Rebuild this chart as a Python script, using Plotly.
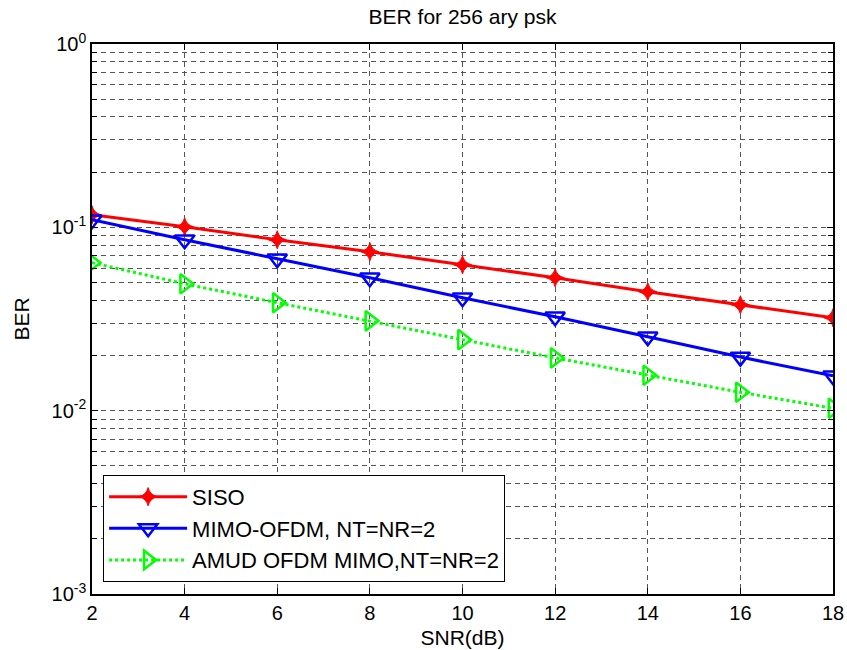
import plotly.graph_objects as go

snr = [2, 4, 6, 8, 10, 12, 14, 16, 18]
ber_siso = [0.117, 0.1006, 0.0855, 0.0736, 0.0625, 0.0531, 0.0445, 0.0378, 0.0321]
ber_mimo = [0.110, 0.0855, 0.0674, 0.0531, 0.0413, 0.0325, 0.0253, 0.0196, 0.0155]
ber_amud = [0.0641, 0.0492, 0.0388, 0.0309, 0.0244, 0.0194, 0.0156, 0.0126, 0.0103]

x_ticks = [2, 4, 6, 8, 10, 12, 14, 16, 18]
decades = [-3, -2, -1, 0]
y_tickvals = [10.0 ** e for e in decades]
y_ticktext = [f"10<sup>{e}</sup>" for e in decades]

font_family = "Liberation Sans, Arial, sans-serif"

fig = go.Figure()
fig.add_trace(go.Scatter(
    x=snr, y=ber_siso, mode="lines+markers", name="SISO",
    line=dict(color="#ff0000", width=3),
    marker=dict(symbol="star-diamond", size=13, color="#ff0000",
                line=dict(color="#ff0000", width=1)),
))
fig.add_trace(go.Scatter(
    x=snr, y=ber_mimo, mode="lines+markers", name="MIMO-OFDM, NT=NR=2",
    line=dict(color="#0000ff", width=3),
    marker=dict(symbol="triangle-down-open", size=17, color="#0000ff",
                line=dict(color="#0000ff", width=2.5)),
))
fig.add_trace(go.Scatter(
    x=snr, y=ber_amud, mode="lines+markers", name="AMUD OFDM MIMO,NT=NR=2",
    line=dict(color="#00ff00", width=3, dash="dot"),
    marker=dict(symbol="triangle-right-open", size=17, color="#00ff00",
                line=dict(color="#00ff00", width=2.5)),
))

grid_color = "#555555"
fig.update_layout(
    width=847, height=650,
    margin=dict(l=92, r=14, t=44, b=56),
    paper_bgcolor="white", plot_bgcolor="white",
    font=dict(family=font_family, size=20, color="black"),
    title=dict(text="BER for 256 ary psk", x=0.5, xref="paper", xanchor="center",
               y=1 - 17 / 650, yref="container", yanchor="middle",
               font=dict(size=21, color="black")),
    xaxis=dict(
        range=[2, 18], tickvals=x_ticks, ticktext=[str(v) for v in x_ticks],
        showline=True, linecolor="black", linewidth=1.5, mirror="allticks",
        ticks="inside", ticklen=6, tickcolor="black",
        showgrid=True, gridcolor=grid_color, gridwidth=1, griddash="5px,4px",
        zeroline=False, automargin=False,
        title=dict(text="SNR(dB)", standoff=8, font=dict(size=21)),
        tickfont=dict(size=20),
    ),
    yaxis=dict(
        type="log", range=[-3, 0], tickvals=y_tickvals, ticktext=y_ticktext,
        showline=True, linecolor="black", linewidth=1.5, mirror="allticks",
        ticks="inside", ticklen=6, tickcolor="black",
        showgrid=True, gridcolor=grid_color, gridwidth=1, griddash="5px,4px",
        minor=dict(ticks="inside", ticklen=5, tickcolor="black", dtick="D1",
                   showgrid=True, gridcolor=grid_color, gridwidth=1,
                   griddash="5px,4px"),
        zeroline=False, automargin=False,
        title=dict(text="BER", standoff=16, font=dict(size=21)),
        tickfont=dict(size=20),
    ),
    legend=dict(
        x=0.015, y=0.022, xanchor="left", yanchor="bottom",
        bgcolor="white", bordercolor="black", borderwidth=1,
        font=dict(size=22), itemwidth=78, tracegroupgap=0,
    ),
    showlegend=True,
)

fig.write_html("out.html", config={"displayModeBar": False},
               post_script="document.body.style.margin='0';")
